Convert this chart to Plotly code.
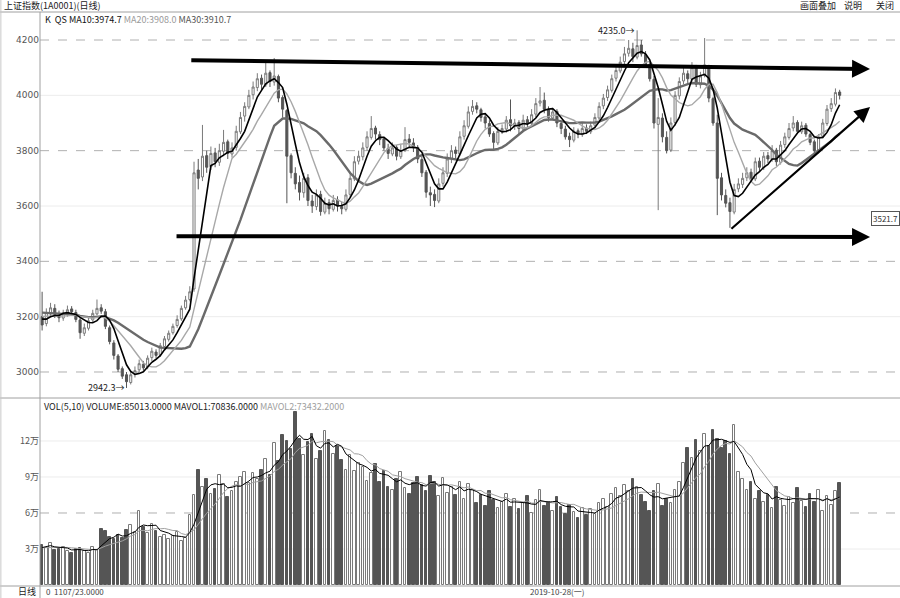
import plotly.graph_objects as go
import pandas as pd

# ---------------- data ----------------
pre_close = [3235, 3228, 3240, 3222, 3215, 3230, 3245, 3238, 3220, 3210,
             3225, 3218, 3205, 3198, 3210, 3215, 3190, 3185, 3195]
pre_vol = [3.0, 3.2, 2.9, 3.1, 3.3, 2.8, 3.0, 3.4, 3.1]

opens = [3200, 3175, 3210, 3230, 3205, 3195, 3210, 3228, 3215, 3188,
         3140, 3158, 3188, 3210, 3232, 3218, 3160, 3105, 3058, 3012,
         2990, 2962, 2992, 3008, 3028, 3018, 3052, 3072, 3062, 3092,
         3118, 3142, 3168, 3192, 3232, 3262, 3300, 3730, 3705, 3782,
         3742, 3792, 3758, 3798, 3832, 3788, 3812, 3868, 3925, 3958,
         4002, 4028, 4062, 4038, 4082, 4048, 4068, 3992, 3945, 3782,
         3718, 3685, 3648, 3702, 3618, 3598, 3642, 3578, 3612, 3588,
         3622, 3598, 3588, 3642, 3698, 3762, 3778, 3812, 3848, 3882,
         3858, 3842, 3808, 3788, 3812, 3778, 3802, 3842, 3828, 3812,
         3768, 3722, 3648, 3642, 3618, 3682, 3718, 3772, 3802, 3788,
         3852, 3888, 3942, 3962, 3948, 3922, 3898, 3862, 3828, 3872,
         3878, 3912, 3888, 3902, 3878, 3912, 3898, 3932, 3972, 3982,
         3948, 3918, 3942, 3898, 3878, 3852, 3838, 3872, 3858, 3882,
         3868, 3892, 3918, 3962, 3992, 4018, 4062, 4088, 4122, 4152,
         4168, 4138, 4182, 4148, 4112, 4058, 3895, 3918, 3848, 3802,
         3902, 3998, 4052, 4078, 4058, 4102, 4038, 4072, 4108, 3988,
         3900, 3702, 3638, 3612, 3578, 3662, 3678, 3702, 3722, 3698,
         3762, 3738, 3782, 3768, 3802, 3758, 3822, 3848, 3882, 3902,
         3868, 3892, 3858, 3832, 3798, 3852, 3898, 3952, 3968, 4012]

highs = [3290, 3230, 3250, 3245, 3222, 3225, 3240, 3238, 3225, 3195,
         3175, 3200, 3225, 3262, 3245, 3228, 3168, 3115, 3065, 3020,
         3000, 3005, 3020, 3045, 3040, 3060, 3088, 3082, 3105, 3130,
         3150, 3175, 3205, 3240, 3275, 3310, 3760, 3770, 3893, 3800,
         3815, 3810, 3825, 3875, 3840, 3830, 3890, 3940, 3975, 4020,
         4050, 4080, 4075, 4127, 4090, 4135, 4075, 4000, 3950, 3790,
         3740, 3710, 3720, 3715, 3640, 3660, 3655, 3630, 3625, 3640,
         3635, 3615, 3660, 3720, 3780, 3800, 3830, 3870, 3925, 3890,
         3870, 3850, 3825, 3830, 3820, 3825, 3885, 3860, 3845, 3820,
         3780, 3730, 3670, 3660, 3700, 3740, 3790, 3820, 3815, 3870,
         3910, 3960, 3983, 3975, 3955, 3930, 3910, 3870, 3885, 3895,
         3925, 3985, 3915, 3910, 3930, 3925, 3950, 3990, 4030, 4010,
         3960, 3955, 3950, 3905, 3890, 3865, 3885, 3880, 3900, 3895,
         3905, 3935, 3975, 4005, 4035, 4075, 4110, 4140, 4175, 4200,
         4190, 4235.0, 4200, 4160, 4120, 4070, 3990, 3935, 3870, 3920,
         4015, 4065, 4100, 4090, 4120, 4110, 4085, 4207, 4110, 3995,
         3930, 3720, 3660, 3630, 3680, 3700, 3720, 3740, 3735, 3775,
         3775, 3795, 3795, 3820, 3810, 3835, 3865, 3900, 3925, 3910,
         3905, 3900, 3865, 3840, 3860, 3915, 3965, 3990, 4025, 4020]

lows = [3150, 3165, 3200, 3195, 3180, 3185, 3200, 3205, 3180, 3120,
        3130, 3150, 3180, 3205, 3210, 3155, 3100, 3045, 3000, 2975,
        2942.3, 2955, 2980, 3000, 3005, 3010, 3040, 3050, 3055, 3085,
        3110, 3135, 3160, 3185, 3225, 3255, 3290, 3660, 3690, 3720,
        3730, 3740, 3745, 3780, 3770, 3775, 3800, 3860, 3905, 3950,
        3985, 4015, 4020, 4030, 4030, 4035, 3975, 3920, 3610, 3700,
        3660, 3620, 3630, 3600, 3575, 3585, 3565, 3570, 3570, 3580,
        3580, 3570, 3580, 3630, 3690, 3750, 3765, 3800, 3840, 3840,
        3820, 3800, 3770, 3780, 3765, 3770, 3795, 3810, 3795, 3755,
        3705, 3630, 3600, 3596, 3610, 3670, 3705, 3755, 3770, 3780,
        3840, 3880, 3930, 3935, 3905, 3880, 3850, 3800, 3820, 3860,
        3865, 3870, 3875, 3860, 3870, 3885, 3890, 3920, 3960, 3935,
        3905, 3910, 3885, 3860, 3840, 3813, 3830, 3845, 3850, 3860,
        3860, 3880, 3910, 3950, 3980, 4010, 4050, 4080, 4110, 4140,
        4120, 4130, 4140, 4100, 4050, 3880, 3585, 3830, 3790, 3795,
        3890, 3985, 4040, 4045, 4050, 4030, 4025, 4065, 3975, 3890,
        3567, 3620, 3595, 3521, 3570, 3650, 3665, 3690, 3690, 3690,
        3725, 3730, 3755, 3760, 3745, 3750, 3810, 3840, 3870, 3860,
        3860, 3850, 3820, 3790, 3790, 3845, 3890, 3940, 3960, 3985]

closes = [3170, 3215, 3232, 3208, 3196, 3212, 3225, 3218, 3190, 3142,
          3160, 3185, 3212, 3230, 3220, 3165, 3110, 3060, 3010, 2985,
          2965, 2990, 3005, 3030, 3015, 3050, 3075, 3060, 3095, 3120,
          3140, 3165, 3190, 3230, 3260, 3290, 3720, 3700, 3780, 3740,
          3790, 3760, 3800, 3830, 3790, 3810, 3870, 3920, 3960, 4000,
          4030, 4060, 4040, 4080, 4050, 4070, 3990, 3950, 3780, 3720,
          3680, 3650, 3700, 3620, 3600, 3640, 3580, 3610, 3590, 3620,
          3600, 3590, 3640, 3700, 3760, 3780, 3810, 3850, 3880, 3860,
          3840, 3810, 3790, 3810, 3780, 3800, 3840, 3830, 3810, 3770,
          3720, 3650, 3640, 3620, 3680, 3720, 3770, 3800, 3790, 3850,
          3890, 3940, 3960, 3950, 3920, 3900, 3860, 3830, 3870, 3880,
          3910, 3890, 3900, 3880, 3910, 3900, 3930, 3970, 3980, 3950,
          3920, 3940, 3900, 3880, 3850, 3840, 3870, 3860, 3880, 3870,
          3890, 3920, 3960, 3990, 4020, 4060, 4090, 4120, 4150, 4170,
          4140, 4180, 4150, 4110, 4060, 3900, 3920, 3850, 3800, 3900,
          4000, 4050, 4080, 4060, 4100, 4040, 4070, 4110, 3990, 3900,
          3700, 3640, 3610, 3580, 3660, 3680, 3700, 3720, 3700, 3760,
          3740, 3780, 3770, 3800, 3760, 3820, 3850, 3880, 3900, 3870,
          3890, 3860, 3830, 3800, 3850, 3900, 3950, 3970, 4010, 4000]

# volume in 万
volumes = [3.3, 3.1, 3.5, 2.9, 3.0, 3.2, 2.8, 2.7, 3.0, 3.1,
           2.8, 2.7, 3.2, 2.9, 4.7, 4.5, 4.0, 3.8, 4.2, 3.9,
           4.6, 5.0, 4.4, 6.2, 4.8, 4.3, 5.1, 4.5, 4.0, 4.2,
           3.8, 4.1, 4.4, 3.7, 3.9, 5.8, 7.5, 9.6, 8.2, 8.8,
           7.6, 8.0, 9.2, 8.4, 7.3, 7.8, 8.6, 9.0, 9.4, 8.5,
           9.3, 8.8, 9.6, 10.5, 9.2, 11.8, 10.3, 12.5, 12.0, 11.3,
           14.4, 12.2, 10.8, 11.9, 12.6, 10.5, 11.2, 12.8, 12.1, 10.9,
           11.6, 10.4, 9.6, 10.8, 9.5, 10.2, 9.8, 8.7, 9.3, 10.1,
           8.6, 9.5, 8.2, 7.9, 8.8, 9.4, 8.1, 7.6, 8.5, 9.0,
           8.3, 7.8, 9.1, 8.6, 7.4, 8.9, 7.7, 8.2, 7.5, 8.6,
           7.2, 8.4, 7.9, 6.8, 7.5, 6.6, 7.8, 7.1, 6.4, 6.9,
           7.6, 6.5, 7.2, 6.3, 6.8, 7.4, 6.0, 7.1, 7.9, 6.6,
           6.9, 6.2, 7.3, 6.5, 5.9, 6.7, 6.1, 5.6, 6.4, 5.8,
           6.3, 5.9, 6.8, 7.2, 6.5, 7.6, 8.1, 7.4, 8.3, 7.8,
           8.8, 8.2, 7.5, 6.9, 6.2, 7.8, 8.4, 6.6, 7.2, 6.8,
           7.9, 8.6, 10.2, 11.4, 10.6, 12.1, 11.2, 12.6, 11.6, 12.9,
           12.2, 11.4, 12.0, 10.9, 13.3, 9.4, 8.8, 7.9, 8.6, 7.2,
           7.8, 6.9, 7.5, 6.4, 8.2, 7.1, 6.6, 7.3, 6.8, 8.1,
           7.0, 6.5, 7.6, 6.9, 7.9, 6.2, 7.4, 6.7, 7.8, 8.5]

price_ticks = [3000, 3200, 3400, 3600, 3800, 4000, 4200]
price_dashed = [3000, 3400, 3800, 4200]
vol_ticks = [3, 6, 9, 12]
vol_tick_labels = ["3万", "6万", "9万", "12万"]
vol_dashed = [6]

# ---------------- derived ----------------
n = len(closes)
idx = list(range(n))
allc = pd.Series(pre_close + closes, dtype=float)
ma_fast = allc.rolling(5).mean().iloc[len(pre_close):].tolist()
ma_mid = allc.rolling(10).mean().iloc[len(pre_close):].tolist()
ma_slow = allc.rolling(20).mean().iloc[len(pre_close):].tolist()
allv = pd.Series(pre_vol + volumes, dtype=float)
mav1 = allv.rolling(5).mean().iloc[len(pre_vol):].tolist()
mav2 = allv.rolling(10).mean().iloc[len(pre_vol):].tolist()

up = [c >= o for o, c in zip(opens, closes)]
DOWN = "#555555"
UPLINE = "#7a7a7a"

fig = go.Figure()
fig.add_trace(go.Candlestick(
    x=idx, open=opens, high=highs, low=lows, close=closes,
    increasing=dict(line=dict(color=UPLINE, width=1), fillcolor="white"),
    decreasing=dict(line=dict(color=DOWN, width=1), fillcolor=DOWN),
    whiskerwidth=0, xaxis="x", yaxis="y", showlegend=False, hoverinfo="skip"))
fig.add_trace(go.Scatter(x=idx, y=ma_slow, mode="lines", line=dict(color="#6a6a6a", width=2.4),
                         xaxis="x", yaxis="y", showlegend=False, hoverinfo="skip"))
fig.add_trace(go.Scatter(x=idx, y=ma_mid, mode="lines", line=dict(color="#a8a8a8", width=1.4),
                         xaxis="x", yaxis="y", showlegend=False, hoverinfo="skip"))
fig.add_trace(go.Scatter(x=idx, y=ma_fast, mode="lines", line=dict(color="#000000", width=1.6),
                         xaxis="x", yaxis="y", showlegend=False, hoverinfo="skip"))

fig.add_trace(go.Bar(
    x=idx, y=volumes, width=0.62,
    marker=dict(color=["white" if u else DOWN for u in up],
                line=dict(color=[UPLINE if u else DOWN for u in up], width=1)),
    xaxis="x2", yaxis="y2", showlegend=False, hoverinfo="skip"))
fig.add_trace(go.Scatter(x=idx, y=mav2, mode="lines", line=dict(color="#a0a0a0", width=1),
                         xaxis="x2", yaxis="y2", showlegend=False, hoverinfo="skip"))
fig.add_trace(go.Scatter(x=idx, y=mav1, mode="lines", line=dict(color="#000000", width=1),
                         xaxis="x2", yaxis="y2", showlegend=False, hoverinfo="skip"))

SPLIT = (586 - 398) / 574.0
XR = [-0.5, 203.3]
tickfont = dict(size=9, color="#555555", family="DejaVu Sans")

shapes = []
for v in price_ticks:
    dashed = v in price_dashed
    shapes.append(dict(type="line", xref="x domain", x0=0, x1=1, yref="y", y0=v, y1=v,
                       line=dict(color="#b0b0b0" if dashed else "#ececec", width=1,
                                 dash="dash" if dashed else "solid"), layer="below"))
for v in vol_ticks:
    dashed = v in vol_dashed
    shapes.append(dict(type="line", xref="x2 domain", x0=0, x1=1, yref="y2", y0=v, y1=v,
                       line=dict(color="#b0b0b0" if dashed else "#ececec", width=1,
                                 dash="dash" if dashed else "solid"), layer="below"))
LX = -40 / 860.0
frame = dict(color="#a0a0a0", width=1)
shapes += [
    dict(type="line", xref="paper", yref="paper", x0=LX, x1=1, y0=1, y1=1, line=frame),
    dict(type="line", xref="paper", yref="paper", x0=LX, x1=1, y0=SPLIT, y1=SPLIT, line=frame),
    dict(type="line", xref="paper", yref="paper", x0=LX, x1=1, y0=0, y1=0, line=frame),
    dict(type="line", xref="paper", yref="paper", x0=0, x1=0, y0=-12 / 574.0, y1=1, line=frame),
    dict(type="line", xref="paper", yref="paper", x0=LX + 0.001, x1=LX + 0.001, y0=-12 / 574.0,
         y1=1 + 12 / 574.0, line=dict(color="#c8c8c8", width=1)),
]

ann = []
def ptxt(x_px, y_px, text, anchor="left", size=10, color="#222222", **kw):
    ann.append(dict(xref="paper", yref="paper", x=(x_px - 40) / 860.0, y=(586 - y_px) / 574.0,
                    text=text, showarrow=False, xanchor=anchor, yanchor="middle",
                    font=dict(size=size, color=color), **kw))

ptxt(2, 5.5, "上证指数(1A0001)(日线)", size=9)
ptxt(798, 5.5, "画面叠加", size=9)
ptxt(842, 5.5, "说明", size=9)
ptxt(874, 5.5, "关闭", size=9)
ptxt(43, 19, "K &nbsp;QS MA10:3974.7 <span style='color:#9a9a9a'>MA20:3908.0</span> "
             "<span style='color:#555555'>MA30:3910.7</span>", size=9, color="#111111")
ptxt(42, 406, "VOL(5,10) VOLUME:85013.0000 MAVOL1:70836.0000 "
              "<span style='color:#a0a0a0'>MAVOL2:73432.2000</span>", size=9, color="#222222")
ptxt(38, 591.5, "日线", anchor="right", size=9)
ptxt(44, 591.5, "0 &nbsp;1107/23.0000", size=8, color="#444444")
ptxt(528, 591.5, "2019-10-28(一)", size=8, color="#444444")
ann.append(dict(xref="paper", yref="y", x=1, y=3556, text="3521.7", showarrow=False,
                xanchor="right", yanchor="middle", font=dict(size=8, color="#333333"),
                bordercolor="#555555", borderwidth=1, borderpad=1, bgcolor="white"))
# extreme labels
ann.append(dict(xref="x", yref="y", x=20, y=2942.3, text="2942.3→", showarrow=False,
                xanchor="right", yanchor="middle", xshift=-1, font=dict(size=9, color="#222222")))
ann.append(dict(xref="x", yref="y", x=141, y=4235.0, text="4235.0→", showarrow=False,
                xanchor="right", yanchor="middle", xshift=-1, font=dict(size=9, color="#222222")))

# trend arrows (pixel-read endpoints converted to bar index / price)
def arrow(x0, y0, x1, y1, w, s):
    ann.append(dict(xref="x", yref="y", axref="x", ayref="y", x=x1, y=y1, ax=x0, ay=y0,
                    text="", showarrow=True, arrowhead=2, arrowsize=s, arrowwidth=w,
                    arrowcolor="#000000"))
arrow(35.0, 4127, 196.2, 4095, 4, 0.9)
arrow(31.5, 3491, 196.2, 3488, 4, 0.9)
arrow(163.0, 3513, 196.2, 3958, 2.2, 1.4)

fig.update_layout(
    width=900, height=598,
    margin=dict(l=40, r=0, t=12, b=12),
    paper_bgcolor="white", plot_bgcolor="white",
    font=dict(family="Noto Sans CJK SC, DejaVu Sans", size=10, color="#222222"),
    showlegend=False, bargap=0,
    xaxis=dict(domain=[0, 1], range=XR, anchor="y", visible=False,
               rangeslider=dict(visible=False), fixedrange=True),
    xaxis2=dict(domain=[0, 1], range=XR, anchor="y2", visible=False, matches="x"),
    yaxis=dict(domain=[SPLIT, 1], range=[2906.0, 4301.2], tickvals=price_ticks,
               ticktext=[str(v) for v in price_ticks], tickfont=tickfont, showgrid=False,
               zeroline=False, showline=False, ticks=""),
    yaxis2=dict(domain=[0, SPLIT], range=[-0.083, 15.58], tickvals=vol_ticks,
                ticktext=vol_tick_labels, tickfont=dict(size=9, color="#555555",
                family="Noto Sans CJK SC"), showgrid=False, zeroline=False,
                showline=False, ticks=""),
    shapes=shapes, annotations=ann,
)

fig.write_html("out.html", config={"displayModeBar": False},
               post_script="document.body.style.margin='0';document.body.style.padding='0';"
                           "document.body.style.overflow='hidden';")
